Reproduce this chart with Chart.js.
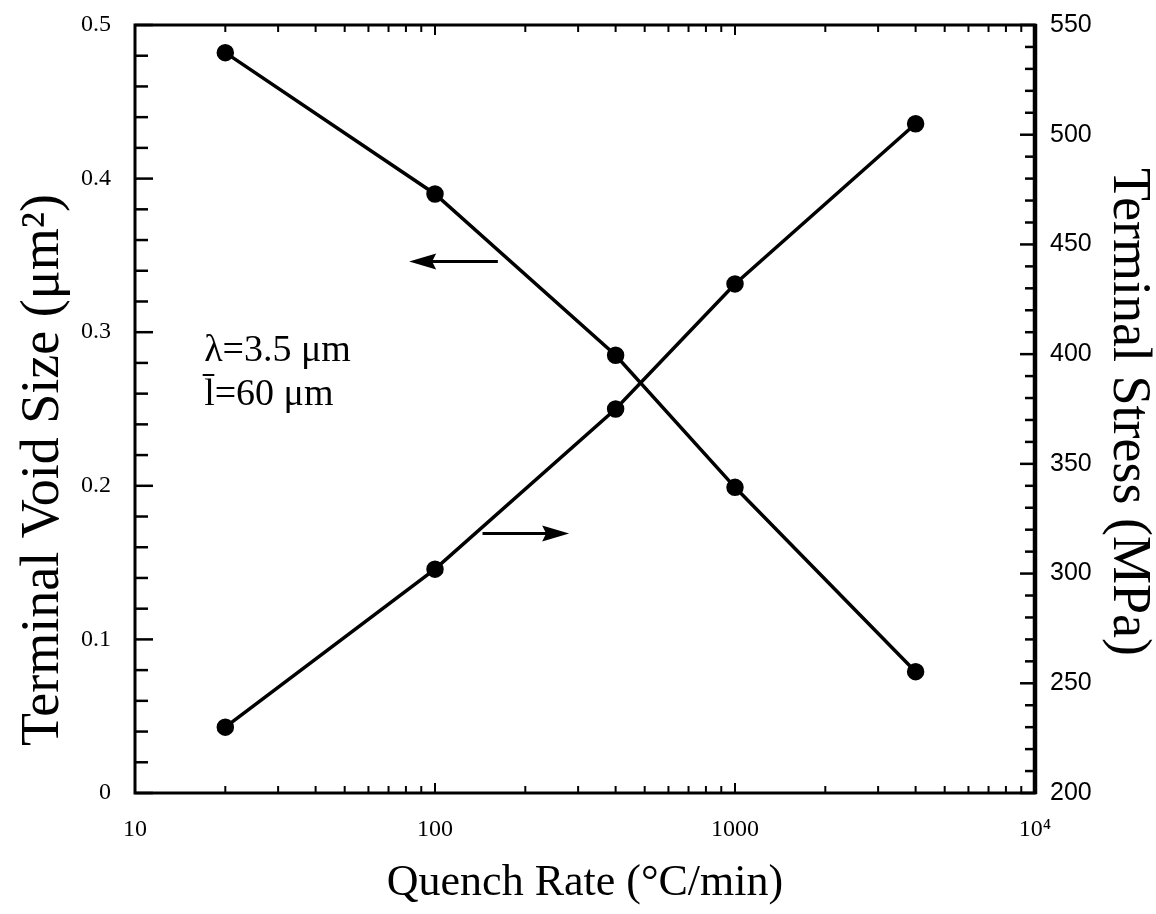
<!DOCTYPE html>
<html><head><meta charset="utf-8">
<script src="https://cdn.jsdelivr.net/npm/chart.js@4"></script>
<style>html,body{margin:0;padding:0;background:#fff}#wrap{width:1156px;height:914px}</style>
</head><body><div id="wrap"><canvas id="c" width="1156" height="914"></canvas></div>
<script>
const quenchRates = [20, 100, 400, 1000, 4000];
const voidSize = [0.482, 0.390, 0.285, 0.199, 0.079];
const stress = [230, 302, 375, 432, 505];
const xTickLabels = {10: '10', 100: '100', 1000: '1000', 10000: '10⁴'};
const annotLines = ['λ=3.5 μm', 'l̄=60 μm'];
const leftTitle = 'Terminal Void Size (μm²)';
const rightTitle = 'Terminal Stress (MPa)';

const serif = '"Liberation Serif", "Times New Roman", serif';
const sans = '"Liberation Sans", Arial, sans-serif';

const deco = {
  id: 'deco',
  afterDraw(chart) {
    const ctx = chart.ctx, a = chart.chartArea;
    const x = chart.scales.x, y = chart.scales.y, y2 = chart.scales.y2;
    ctx.save();
    ctx.strokeStyle = '#000';
    // frame
    ctx.lineWidth = 3;
    ctx.strokeRect(a.left, a.top, a.right - a.left, a.bottom - a.top);
    ctx.lineWidth = 4.5;
    ctx.beginPath(); ctx.moveTo(a.right, a.top - 1); ctx.lineTo(a.right, a.bottom + 1); ctx.stroke();
    // x ticks (log) bottom and top
    ctx.lineWidth = 2;
    for (let d = 10; d < 10000; d *= 10) {
      for (let m = 1; m <= 9; m++) {
        const v = d * m;
        const px = x.getPixelForValue(v);
        const len = m === 1 ? 10 : 7;
        ctx.beginPath();
        ctx.moveTo(px, a.bottom); ctx.lineTo(px, a.bottom - len);
        ctx.moveTo(px, a.top); ctx.lineTo(px, a.top + len);
        ctx.stroke();
      }
    }
    // left y ticks
    ctx.lineWidth = 2.5;
    for (let i = 0; i <= 25; i++) {
      const v = i * 0.02;
      const py = y.getPixelForValue(v);
      const len = i % 5 === 0 ? 18 : 13;
      ctx.beginPath(); ctx.moveTo(a.left, py); ctx.lineTo(a.left + len, py); ctx.stroke();
    }
    // right y ticks
    for (let v = 200; v <= 550; v += 10) {
      const py = y2.getPixelForValue(v);
      const len = v % 50 === 0 ? 15 : 10;
      ctx.beginPath(); ctx.moveTo(a.right, py); ctx.lineTo(a.right - len, py); ctx.stroke();
    }
    // arrows
    function arrow(x0, x1, yv) {
      const p0 = x.getPixelForValue(x0), p1 = x.getPixelForValue(x1), py = y.getPixelForValue(yv);
      const dir = Math.sign(p1 - p0);
      ctx.lineWidth = 3;
      ctx.beginPath(); ctx.moveTo(p0, py); ctx.lineTo(p1 - dir * 20, py); ctx.stroke();
      ctx.fillStyle = '#000';
      ctx.beginPath();
      ctx.moveTo(p1, py); ctx.lineTo(p1 - dir * 27, py - 8); ctx.lineTo(p1 - dir * 23, py); ctx.lineTo(p1 - dir * 27, py + 8);
      ctx.closePath(); ctx.fill();
    }
    arrow(162, 82, 0.346);
    arrow(144, 280, 0.169);
    // annotation
    ctx.fillStyle = '#000';
    ctx.font = '38px ' + serif;
    ctx.textBaseline = 'middle';
    ctx.textAlign = 'left';
    const tx = x.getPixelForValue(17.0);
    ctx.fillText(annotLines[0], tx, y.getPixelForValue(0.288));
    ctx.fillText(annotLines[1], tx, y.getPixelForValue(0.259));
    // vertical axis titles
    ctx.font = '54px ' + serif;
    ctx.textAlign = 'center';
    ctx.save();
    ctx.translate(44, 470); ctx.rotate(-Math.PI / 2);
    ctx.fillText(leftTitle, 0, 0);
    ctx.restore();
    ctx.save();
    ctx.translate(1128, 412); ctx.rotate(Math.PI / 2);
    ctx.fillText(rightTitle, 0, 0);
    ctx.restore();
    ctx.restore();
  }
};

function noVPad(s) { s.paddingTop = 0; s.paddingBottom = 0; }

new Chart(document.getElementById('c'), {
  type: 'line',
  data: {
    datasets: [
      {
        label: 'Terminal Void Size',
        data: quenchRates.map((q, i) => ({x: q, y: voidSize[i]})),
        yAxisID: 'y', borderColor: '#000', backgroundColor: '#000',
        borderWidth: 3.5, pointRadius: 7, pointHoverRadius: 7, tension: 0
      },
      {
        label: 'Terminal Stress',
        data: quenchRates.map((q, i) => ({x: q, y: stress[i]})),
        yAxisID: 'y2', borderColor: '#000', backgroundColor: '#000',
        borderWidth: 3.5, pointRadius: 7, pointHoverRadius: 7, tension: 0
      }
    ]
  },
  options: {
    responsive: false,
    animation: false,
    events: [],
    layout: {padding: {top: 25, left: 0, right: 0, bottom: 0}},
    plugins: {legend: {display: false}, tooltip: {enabled: false}},
    scales: {
      x: {
        type: 'logarithmic', position: 'bottom', min: 10, max: 10000,
        grid: {display: false, drawTicks: false},
        border: {display: false},
        afterBuildTicks(s) { s.ticks = Object.keys(xTickLabels).map(v => ({value: +v})); },
        ticks: {
          autoSkip: false, maxRotation: 0, padding: 22, color: '#000',
          font: {family: serif, size: 24},
          callback: v => xTickLabels[v] || ''
        },
        title: {display: true, text: 'Quench Rate (°C/min)', color: '#000', font: {family: serif, size: 44}, padding: {top: 6}},
        afterFit(s) { s.height = 121; s.paddingLeft = 0; s.paddingRight = 0; }
      },
      y: {
        position: 'left', min: 0, max: 0.5,
        grid: {display: false, drawTicks: false}, border: {display: false},
        ticks: {
          stepSize: 0.1, padding: 24, color: '#000', font: {family: serif, size: 24},
          callback: v => v === 0 ? '0' : v.toFixed(1)
        },
        title: {display: false},
        afterFit(s) { s.width = 135; noVPad(s); }
      },
      y2: {
        position: 'right', min: 200, max: 550,
        grid: {display: false, drawTicks: false}, border: {display: false},
        ticks: {stepSize: 50, padding: 15, color: '#000', font: {family: sans, size: 25}},
        title: {display: false},
        afterFit(s) { s.width = 121; noVPad(s); }
      }
    }
  },
  plugins: [deco]
});
</script></body></html>
